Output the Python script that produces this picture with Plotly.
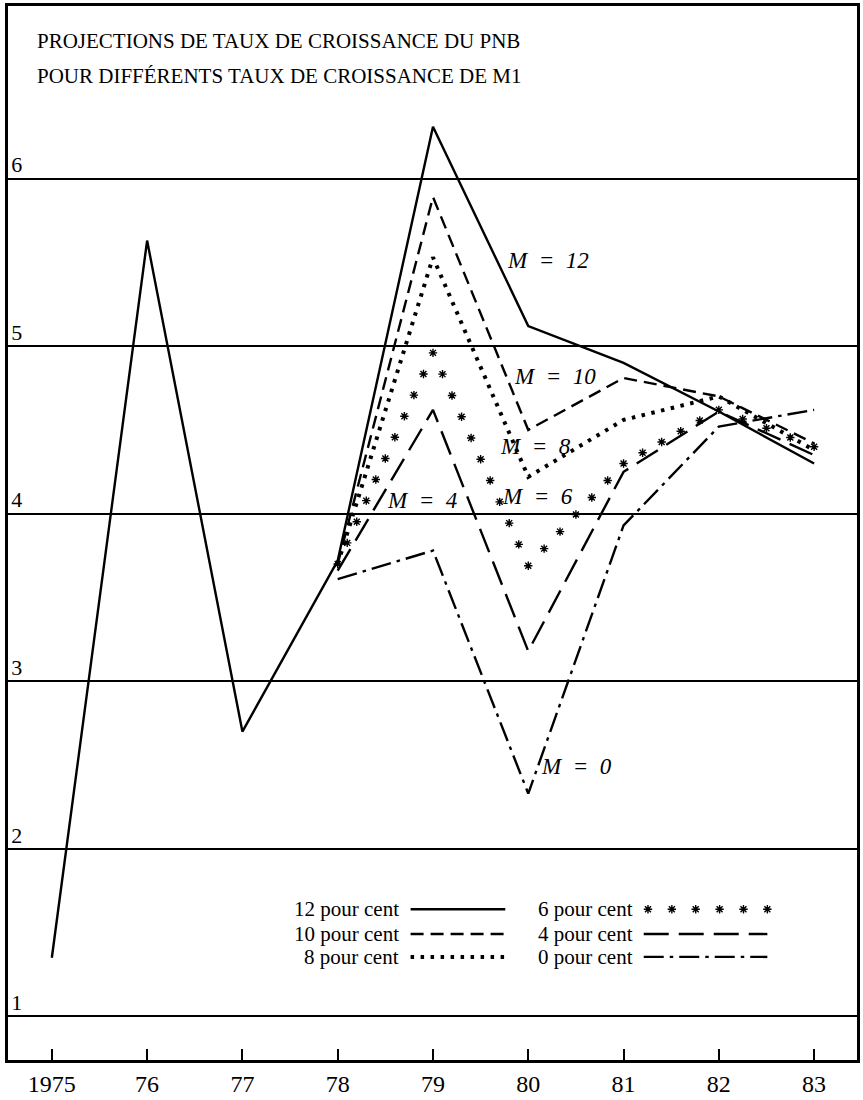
import numpy as np
import plotly.graph_objects as go

# Données
annees_hist = [1975, 1976, 1977, 1978]
pnb_hist = [1.35, 5.63, 2.70, 3.72]

annees_proj = [1978, 1979, 1980, 1981, 1982, 1983]
m12 = [3.72, 6.31, 5.12, 4.90, 4.61, 4.30]
m10 = [3.70, 5.89, 4.50, 4.81, 4.70, 4.42]
m8 = [3.70, 5.53, 4.22, 4.56, 4.70, 4.38]
m6 = [3.70, 4.96, 3.69, 4.30, 4.62, 4.40]
m4 = [3.66, 4.62, 3.18, 4.25, 4.61, 4.35]
m0 = [3.61, 3.78, 2.33, 3.93, 4.52, 4.62]

tick_annees = [1975, 1976, 1977, 1978, 1979, 1980, 1981, 1982, 1983]
tick_labels = ["1975", "76", "77", "78", "79", "80", "81", "82", "83"]
tick_y = [1, 2, 3, 4, 5, 6]

legende = ["12 pour cent", "10 pour cent", "8 pour cent",
           "6 pour cent", "4 pour cent", "0 pour cent"]
etiquettes = ["M = 12", "M = 10", "M = 8", "M = 6", "M = 4", "M = 0"]

x_range = [1974.54, 1983.45]
y_range = [0.74, 7.03]
W, H = 863, 1100
marge = dict(l=8, r=3, t=5, b=32)
plot_w = W - marge['l'] - marge['r']
plot_h = H - marge['t'] - marge['b']

POLICE = "Liberation Serif, Times New Roman, serif"

# Styles des courbes
styles = {
    "12": dict(color='black', width=2.4),
    "10": dict(color='black', width=2.4, dash='13px,7px'),
    "8": dict(color='black', width=4, dash='3.5px,6.5px'),
    "4": dict(color='black', width=2.4, dash='25px,10px'),
    "0": dict(color='black', width=2.4, dash='20px,6px,3.5px,6px'),
}
asterisque = dict(symbol='asterisk-open', size=7, color='black',
                  line=dict(width=1.4, color='black'))


def le_long(xs, ys, pas_px=24):
    # position des astérisques le long de la courbe (décor uniquement)
    sx = plot_w / (x_range[1] - x_range[0])
    sy = plot_h / (y_range[1] - y_range[0])
    px, py = [], []
    for i in range(len(xs) - 1):
        d = np.hypot((xs[i + 1] - xs[i]) * sx, (ys[i + 1] - ys[i]) * sy)
        n = max(1, int(round(d / pas_px)))
        t = np.arange(n) / n
        px += list(xs[i] + t * (xs[i + 1] - xs[i]))
        py += list(ys[i] + t * (ys[i + 1] - ys[i]))
    px.append(xs[-1])
    py.append(ys[-1])
    return px, py


fig = go.Figure()

fig.add_trace(go.Scatter(x=annees_hist, y=pnb_hist, mode='lines',
                         line=styles["12"], showlegend=False))
for cle, serie in [("12", m12), ("10", m10), ("8", m8), ("4", m4), ("0", m0)]:
    fig.add_trace(go.Scatter(x=annees_proj, y=serie, mode='lines',
                             line=styles[cle], showlegend=False))

ax6, ay6 = le_long(annees_proj, m6)
fig.add_trace(go.Scatter(x=ax6, y=ay6, mode='markers', marker=asterisque,
                         showlegend=False))

# Etiquettes M = ...
pos_etiq = [(1980.21, 5.51), (1980.28, 4.82), (1980.08, 4.40),
            (1980.10, 4.10), (1978.88, 4.08), (1980.51, 2.49)]
for txt, (ex, ey) in zip(etiquettes, pos_etiq):
    m, val = txt.split(" = ")
    fig.add_annotation(x=ex, y=ey, xref='x', yref='y', showarrow=False,
                       xanchor='center', yanchor='middle',
                       text=f"<i>{m}\u00a0\u00a0=\u00a0\u00a0{val}</i>",
                       font=dict(family=POLICE, size=23, color='black'))

# Légende dessinée dans un repère superposé (0..1)
rangs_y = [0.1430, 0.1195, 0.0978]
col_txt = [0.4624, 0.7383]
col_ech = [(0.4742, 0.5857), (0.7488, 0.8944)]
ordre = ["12", "10", "8", "6", "4", "0"]
for i, (lib, cle) in enumerate(zip(legende, ordre)):
    c, r = divmod(i, 3)
    fig.add_annotation(x=col_txt[c], y=rangs_y[r], xref='paper', yref='paper',
                       xanchor='right', yanchor='middle', showarrow=False,
                       text=lib, font=dict(family=POLICE, size=21, color='black'))
    x0, x1 = col_ech[c]
    if cle == "6":
        fig.add_trace(go.Scatter(x=list(np.linspace(x0 + 0.005, x1, 6)),
                                 y=[rangs_y[r]] * 6, mode='markers',
                                 marker=asterisque, xaxis='x2', yaxis='y2',
                                 showlegend=False))
    else:
        fig.add_trace(go.Scatter(x=[x0, x1], y=[rangs_y[r]] * 2, mode='lines',
                                 line=styles[cle], xaxis='x2', yaxis='y2',
                                 showlegend=False))

# Titre dans le cadre
for ligne, ty in [("PROJECTIONS DE TAUX DE CROISSANCE DU PNB", 0.967),
                  ("POUR DIFFÉRENTS TAUX DE CROISSANCE DE M1", 0.934)]:
    fig.add_annotation(x=0.032, y=ty, xref='paper', yref='paper',
                       xanchor='left', yanchor='middle', showarrow=False,
                       text=ligne,
                       font=dict(family=POLICE, size=21, color='black'))

fig.update_layout(
    width=W, height=H,
    margin=marge,
    paper_bgcolor='white', plot_bgcolor='white',
    font=dict(family=POLICE, color='black'),
    showlegend=False,
    xaxis=dict(range=x_range, tickvals=tick_annees, ticktext=tick_labels,
               ticks='inside', ticklen=11, tickwidth=2, tickcolor='black',
               showgrid=False, zeroline=False, showline=True, linecolor='black',
               linewidth=2.5, mirror=True,
               tickfont=dict(family=POLICE, size=24, color='black')),
    yaxis=dict(range=y_range, tickvals=tick_y, ticks='', showgrid=True,
               gridcolor='black', gridwidth=1.8, zeroline=False, showline=True,
               linecolor='black', linewidth=2.5, mirror=True,
               ticklabelposition='inside', ticklabelshift=-14,
               ticklabelstandoff=5,
               tickfont=dict(family=POLICE, size=22, color='black')),
    xaxis2=dict(range=[0, 1], overlaying='x', visible=False),
    yaxis2=dict(range=[0, 1], overlaying='y', visible=False),
)

# marge du body à zéro pour que la figure occupe toute la fenêtre
fig.write_html("out.html", config={'displayModeBar': False},
               post_script="document.body.style.margin='0px';")
